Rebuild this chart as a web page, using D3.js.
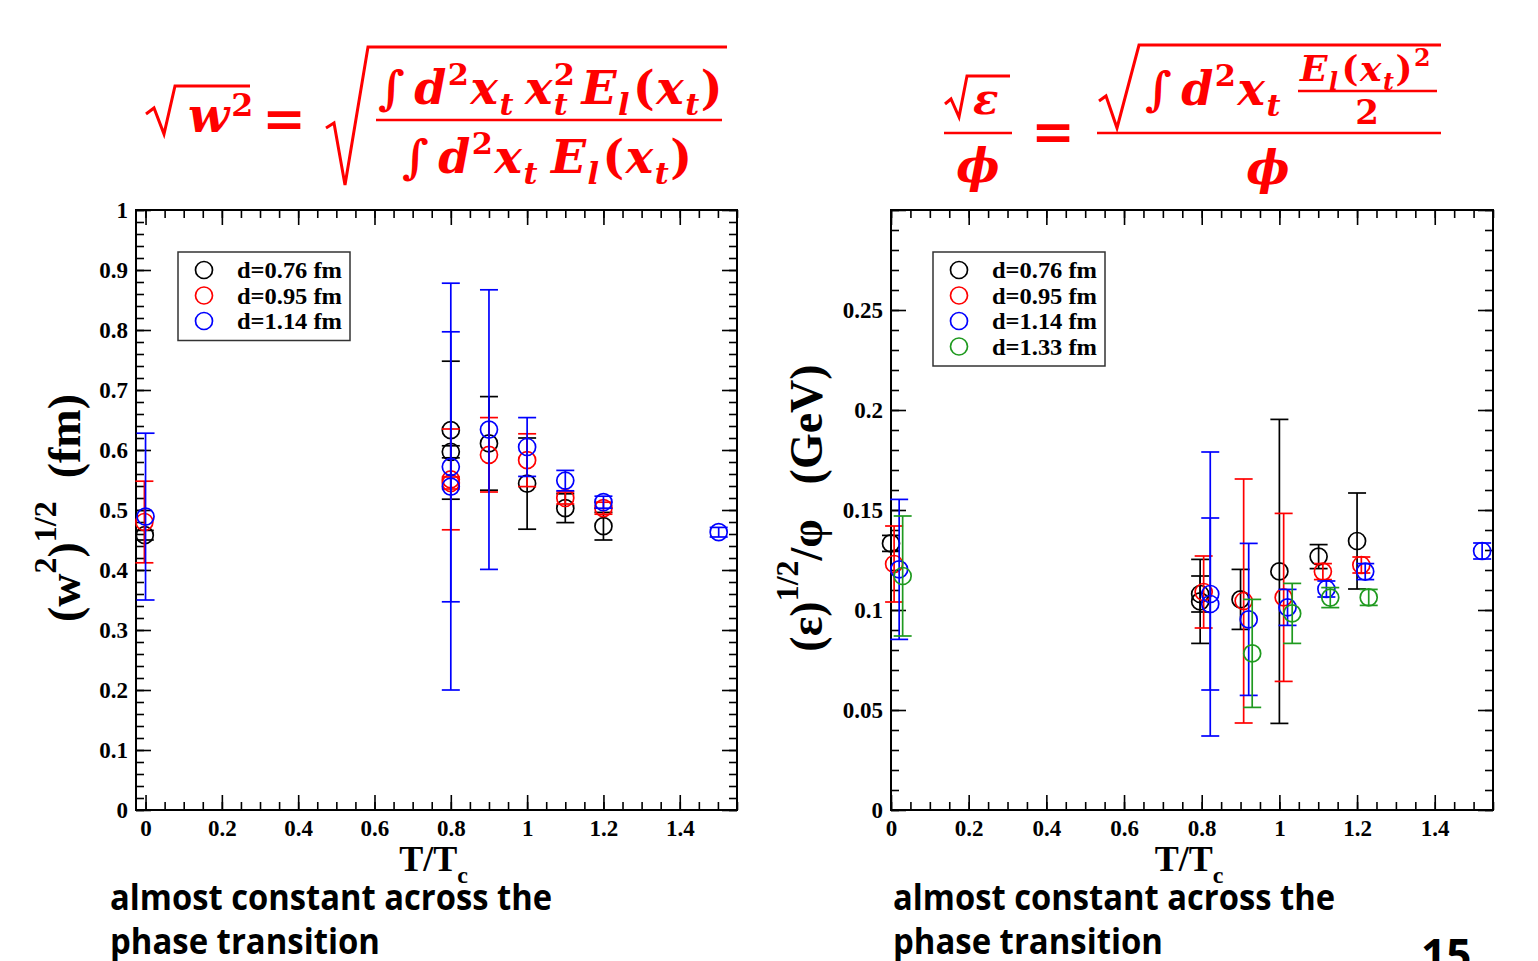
<!DOCTYPE html>
<html>
<head>
<meta charset="utf-8">
<script src="https://cdn.jsdelivr.net/npm/d3@7"></script>
<style>
  body { margin: 0; background: #fff; }
  svg { display: block; }
</style>
</head>
<body>
<div id="chart"></div>
<script>
// data: T/Tc, value, error
const legendW = ["d=0.76 fm", "d=0.95 fm", "d=1.14 fm"]
const legendE = ["d=0.76 fm", "d=0.95 fm", "d=1.14 fm", "d=1.33 fm"]
const seriesColors = ["#000000", "#ff0000", "#0000ff", "#1f9a1f"]

// left panel: (w^2)^(1/2) in fm
const w076 = [
  {t: -0.002, v: 0.458, e: 0.008}, {t: 0.8, v: 0.633, e: 0.115}, {t: 0.8, v: 0.597, e: 0.010},
  {t: 0.9, v: 0.611, e: 0.078}, {t: 1.0, v: 0.544, e: 0.076}, {t: 1.1, v: 0.503, e: 0.024},
  {t: 1.2, v: 0.473, e: 0.023}
]
const w095 = [
  {t: -0.003, v: 0.480, e: 0.068}, {t: 0.8, v: 0.551, e: 0.084}, {t: 0.8, v: 0.545, e: 0.010},
  {t: 0.9, v: 0.592, e: 0.062}, {t: 1.0, v: 0.583, e: 0.044}, {t: 1.1, v: 0.520, e: 0.010},
  {t: 1.2, v: 0.503, e: 0.010}
]
const w114 = [
  {t: 0.0, v: 0.489, e: 0.139}, {t: 0.8, v: 0.572, e: 0.225}, {t: 0.8, v: 0.539, e: 0.339},
  {t: 0.9, v: 0.634, e: 0.233}, {t: 1.0, v: 0.605, e: 0.049}, {t: 1.1, v: 0.549, e: 0.017},
  {t: 1.2, v: 0.513, e: 0.010}, {t: 1.502, v: 0.463, e: 0.008}
]

// right panel: eps^(1/2)/phi in GeV
const e076 = [
  {t: 0.0, v: 0.1333, e: 0.004}, {t: 0.796, v: 0.1043, e: 0.021}, {t: 0.796, v: 0.1080, e: 0.009},
  {t: 0.9, v: 0.1053, e: 0.015}, {t: 1.0, v: 0.1193, e: 0.076}, {t: 1.101, v: 0.1267, e: 0.006},
  {t: 1.2, v: 0.1345, e: 0.024}
]
const e095 = [
  {t: 0.008, v: 0.1230, e: 0.019}, {t: 0.805, v: 0.1090, e: 0.018}, {t: 0.908, v: 0.1045, e: 0.061},
  {t: 1.011, v: 0.1063, e: 0.042}, {t: 1.112, v: 0.1192, e: 0.004}, {t: 1.211, v: 0.1225, e: 0.004}
]
const e114 = [
  {t: 0.021, v: 0.1203, e: 0.035}, {t: 0.822, v: 0.1080, e: 0.071}, {t: 0.822, v: 0.1030, e: 0.043},
  {t: 0.921, v: 0.0953, e: 0.038}, {t: 1.021, v: 0.1013, e: 0.009}, {t: 1.121, v: 0.1105, e: 0.004},
  {t: 1.221, v: 0.1192, e: 0.004}, {t: 1.522, v: 0.1295, e: 0.004}
]
const e133 = [
  {t: 0.03, v: 0.1170, e: 0.030}, {t: 0.93, v: 0.0783, e: 0.027}, {t: 1.033, v: 0.0983, e: 0.015},
  {t: 1.131, v: 0.1062, e: 0.005}, {t: 1.23, v: 0.1063, e: 0.004}
]

const xTicks = [0, 0.2, 0.4, 0.6, 0.8, 1, 1.2, 1.4]
const yTicksW = [0, 0.1, 0.2, 0.3, 0.4, 0.5, 0.6, 0.7, 0.8, 0.9, 1]
const yTicksE = [0, 0.05, 0.1, 0.15, 0.2, 0.25]

const width = 1538
const height = 961
const serif = "'Liberation Serif', 'Times New Roman', serif"
const mathFont = "'DejaVu Serif', serif"
const red = "#ff0000"

const svg = d3.select("#chart").append("svg").attr("width", width).attr("height", height)

const steps = (a, b, s) => d3.range(Math.round(a / s), Math.round(b / s) + 1).map(i => +(i * s).toFixed(4))
const fmt = d => String(+d.toFixed(3))

function panel(cfg) {
  const g = svg.append("g")
  const x = d3.scaleLinear().domain(cfg.xDomain).range([cfg.left, cfg.right])
  const y = d3.scaleLinear().domain(cfg.yDomain).range([cfg.bottom, cfg.top])

  const xMinor = steps(0, 1.55, 0.05).filter(v => v <= cfg.xDomain[1])
  const yMinor = steps(cfg.yDomain[0], cfg.yDomain[1], cfg.yMinor)
  const yMajor = steps(cfg.yDomain[0], cfg.yDomain[1], cfg.yMajor)

  const tidy = sel => sel.call(a => a.select(".domain").remove())
    .call(a => a.selectAll("line").attr("stroke", "#000").attr("stroke-width", 1.6))

  // minor + major ticks on all four sides, pointing inward
  const sides = [
    [d3.axisBottom, cfg.bottom, "x", xMinor, 8], [d3.axisBottom, cfg.bottom, "x", xTicks, 15],
    [d3.axisTop, cfg.top, "x", xMinor, 8], [d3.axisTop, cfg.top, "x", xTicks, 15],
    [d3.axisLeft, cfg.left, "y", yMinor, 8], [d3.axisLeft, cfg.left, "y", yMajor, 15],
    [d3.axisRight, cfg.right, "y", yMinor, 8], [d3.axisRight, cfg.right, "y", yMajor, 15]
  ]
  sides.forEach(([gen, pos, dim, vals, len]) => {
    const ax = gen(dim === "x" ? x : y).tickValues(vals).tickSize(-len).tickFormat("")
    g.append("g")
      .attr("transform", dim === "x" ? `translate(0,${pos})` : `translate(${pos},0)`)
      .call(ax).call(tidy)
  })

  // labelled axes
  g.append("g").attr("transform", `translate(0,${cfg.bottom})`)
    .call(d3.axisBottom(x).tickValues(xTicks).tickSize(0).tickPadding(10).tickFormat(fmt))
    .call(a => a.select(".domain").remove())
    .selectAll("text").attr("font-family", serif).attr("font-weight", "bold").attr("font-size", 23).attr("fill", "#000")
  g.append("g").attr("transform", `translate(${cfg.left},0)`)
    .call(d3.axisLeft(y).tickValues(cfg.yLabels).tickSize(0).tickPadding(8).tickFormat(fmt))
    .call(a => a.select(".domain").remove())
    .selectAll("text").attr("font-family", serif).attr("font-weight", "bold").attr("font-size", 23).attr("fill", "#000")

  g.append("rect").attr("x", cfg.left).attr("y", cfg.top)
    .attr("width", cfg.right - cfg.left).attr("height", cfg.bottom - cfg.top)
    .attr("fill", "none").attr("stroke", "#000").attr("stroke-width", 2)

  // error bars and open circles
  cfg.series.forEach((data, i) => {
    const c = seriesColors[i]
    const s = g.append("g").attr("stroke", c).attr("fill", "none").attr("stroke-width", 1.7)
    const pts = s.selectAll("g").data(data).enter().append("g")
    pts.append("line").attr("x1", d => x(d.t)).attr("x2", d => x(d.t))
      .attr("y1", d => y(d.v - d.e)).attr("y2", d => y(d.v + d.e))
    pts.append("line").attr("x1", d => x(d.t) - 9).attr("x2", d => x(d.t) + 9)
      .attr("y1", d => y(d.v + d.e)).attr("y2", d => y(d.v + d.e))
    pts.append("line").attr("x1", d => x(d.t) - 9).attr("x2", d => x(d.t) + 9)
      .attr("y1", d => y(d.v - d.e)).attr("y2", d => y(d.v - d.e))
    pts.append("circle").attr("cx", d => x(d.t)).attr("cy", d => y(d.v)).attr("r", 8.5)
  })

  // legend
  const lg = g.append("g")
  const rowH = 25.5
  lg.append("rect").attr("x", cfg.left + 42).attr("y", 252)
    .attr("width", 172).attr("height", cfg.legend.length * rowH + 12)
    .attr("fill", "#fff").attr("stroke", "#333").attr("stroke-width", 1.5)
  cfg.legend.forEach((lab, i) => {
    lg.append("circle").attr("cx", cfg.left + 68).attr("cy", 270 + i * rowH).attr("r", 8.5)
      .attr("fill", "none").attr("stroke", seriesColors[i]).attr("stroke-width", 1.7)
    lg.append("text").attr("x", cfg.left + 101).attr("y", 278 + i * rowH)
      .attr("font-family", serif).attr("font-weight", "bold").attr("font-size", 24)
      .attr("textLength", 105).attr("lengthAdjust", "spacingAndGlyphs").text(lab)
  })

  // x title T/Tc
  const xt = g.append("text").attr("x", (cfg.left + cfg.right) / 2 - 3).attr("y", 871)
    .attr("text-anchor", "middle").attr("font-family", serif).attr("font-weight", "bold").attr("font-size", 36)
  xt.append("tspan").text("T/T")
  xt.append("tspan").attr("font-size", 24).attr("dy", 12).text("c")

  // y title
  const yt = g.append("text").attr("transform", `translate(${cfg.yTitleX},${cfg.yTitleY}) rotate(-90)`)
    .attr("text-anchor", "middle").attr("font-family", serif).attr("font-weight", "bold").attr("font-size", 46)
  cfg.yTitle.forEach(p => {
    const sp = yt.append("tspan").text(p.t)
    if (p.sup) sp.attr("font-size", 32).attr("dy", -24)
    if (p.down) sp.attr("dy", 24)
  })

  // caption
  const cap = g.append("text").attr("font-family", "'Open Sans', sans-serif").attr("font-weight", "bold")
    .attr("font-size", 35).attr("fill", "#000")
  cap.append("tspan").attr("x", cfg.capX).attr("y", 910).attr("textLength", 442).attr("lengthAdjust", "spacingAndGlyphs")
    .text("almost constant across the")
  cap.append("tspan").attr("x", cfg.capX).attr("y", 954).attr("textLength", 270).attr("lengthAdjust", "spacingAndGlyphs")
    .text("phase transition")
}

panel({
  left: 136, right: 737, top: 210, bottom: 810,
  xDomain: [-0.025, 1.55], yDomain: [0, 1], yMajor: 0.1, yMinor: 0.02, yLabels: yTicksW,
  series: [w076, w095, w114], legend: legendW, yTitleX: 80, yTitleY: 508, capX: 110,
  yTitle: [{t: "(w"}, {t: "2", sup: true}, {t: ")", down: true}, {t: "1/2", sup: true}, {t: "\u00a0\u00a0(fm)", down: true}]
})
panel({
  left: 891, right: 1493, top: 210, bottom: 810,
  xDomain: [0, 1.55], yDomain: [0, 0.3], yMajor: 0.05, yMinor: 0.01, yLabels: yTicksE,
  series: [e076, e095, e114, e133], legend: legendE, yTitleX: 822, yTitleY: 508, capX: 893,
  yTitle: [{t: "(\u03b5)"}, {t: "1/2", sup: true}, {t: "/\u03c6", down: true}, {t: "\u00a0\u00a0\u00a0(GeV)"}]
})

// page number
svg.append("text").attr("x", 1421).attr("y", 971).attr("font-family", "'Open Sans', sans-serif")
  .attr("font-weight", "bold").attr("font-size", 44).text("15")

// ---- formulas (red, bold italic math) ----
const fg = svg.append("g").attr("fill", red).attr("font-family", mathFont)
  .attr("font-weight", "bold").attr("font-style", "italic")

function mathRow(x, y, size, gap, parts) {
  let cx = x
  parts.forEach(p => {
    const s = p.small ? size * 0.66 : size
    const dy = p.sup ? -size * (p.lift || 0.42) : p.sub ? size * 0.24 : 0
    const t = fg.append("text").attr("x", cx + (p.dx || 0)).attr("y", y + dy).attr("font-size", s).text(p.t)
    if (p.up) t.attr("font-style", "normal")
    const w = t.node().getComputedTextLength()
    if (!p.stack) cx += w + (p.dx || 0) + gap
  })
  return cx
}
const rad = d => fg.append("path").attr("d", d).attr("fill", "none").attr("stroke", red)
  .attr("stroke-width", 3).attr("stroke-linejoin", "miter")
const bar = (x1, x2, y) => fg.append("line").attr("x1", x1).attr("x2", x2).attr("y1", y).attr("y2", y)
  .attr("stroke", red).attr("stroke-width", 2.5)

// sqrt(w^2) = sqrt( int d2x xt^2 E / int d2x E )
rad("M146,114 L154,108 L164,134 L175,86 H250")
mathRow(188, 132, 48, 2, [{t: "w"}, {t: "2", sup: true, small: true, up: true, lift: 0.34}])
fg.append("text").attr("x", 284).attr("y", 137).attr("text-anchor", "middle").attr("font-size", 52)
  .attr("font-style", "normal").text("=")
rad("M326,128 L334,123 L345,185 L368,47 H727")
bar(376, 722, 120)
mathRow(378, 104, 46, 1.5, [
  {t: "\u222b", up: true}, {t: "d", dx: 8}, {t: "2", sup: true, small: true, up: true}, {t: "x"},
  {t: "t", sub: true, small: true}, {t: "x", dx: 10}, {t: "2", sup: true, small: true, up: true, stack: true},
  {t: "t", sub: true, small: true}, {t: "E", dx: 12}, {t: "l", sub: true, small: true},
  {t: "(", up: true, dx: 2}, {t: "x"}, {t: "t", sub: true, small: true}, {t: ")", up: true}
])
mathRow(402, 173, 46, 1.5, [
  {t: "\u222b", up: true}, {t: "d", dx: 8}, {t: "2", sup: true, small: true, up: true}, {t: "x"},
  {t: "t", sub: true, small: true}, {t: "E", dx: 12}, {t: "l", sub: true, small: true},
  {t: "(", up: true, dx: 2}, {t: "x"}, {t: "t", sub: true, small: true}, {t: ")", up: true}
])

// sqrt(eps)/phi = sqrt( int d2x E^2/2 ) / phi
rad("M945,104 L951,99 L959,117 L967,76 H1010")
fg.append("text").attr("x", 973).attr("y", 114).attr("font-size", 42).text("\u03b5")
bar(944, 1012, 133)
fg.append("text").attr("x", 978).attr("y", 182).attr("text-anchor", "middle").attr("font-size", 46).text("\u03d5")
fg.append("text").attr("x", 1053).attr("y", 150).attr("text-anchor", "middle").attr("font-size", 52)
  .attr("font-style", "normal").text("=")
bar(1097, 1441, 133)
rad("M1099,101 L1106,96 L1117,128 L1139,45 H1441")
mathRow(1145, 105, 46, 1.5, [
  {t: "\u222b", up: true}, {t: "d", dx: 8}, {t: "2", sup: true, small: true, up: true}, {t: "x"},
  {t: "t", sub: true, small: true}
])
mathRow(1300, 81, 36, 1.5, [
  {t: "E"}, {t: "l", sub: true, small: true}, {t: "(", up: true, dx: 2}, {t: "x"},
  {t: "t", sub: true, small: true}, {t: ")", up: true}, {t: "2", sup: true, small: true, up: true}
])
bar(1298, 1437, 91)
fg.append("text").attr("x", 1367).attr("y", 124).attr("text-anchor", "middle").attr("font-size", 34)
  .attr("font-style", "normal").text("2")
fg.append("text").attr("x", 1268).attr("y", 184).attr("text-anchor", "middle").attr("font-size", 46).text("\u03d5")
</script>
</body>
</html>
